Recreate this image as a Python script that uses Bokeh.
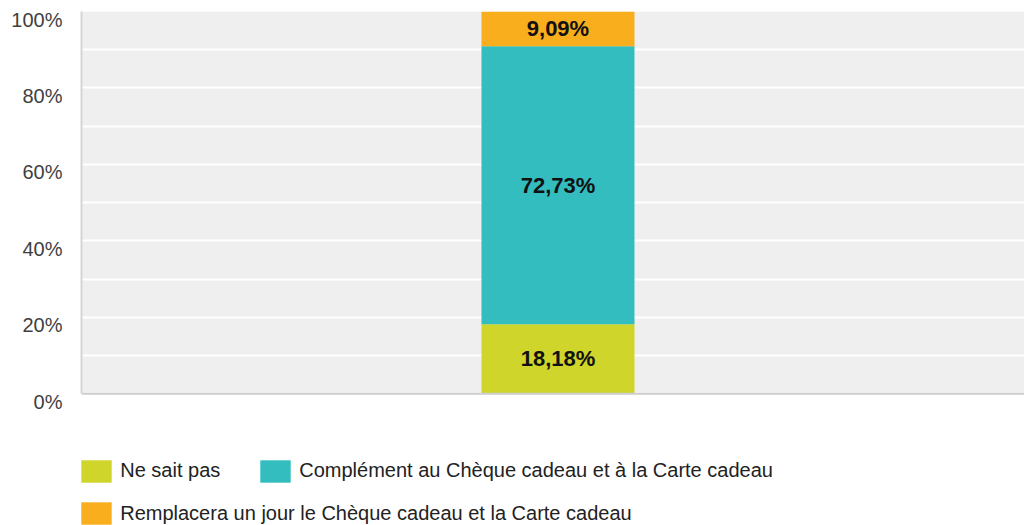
from bokeh.plotting import figure
from bokeh.models import (Range1d, FixedTicker, PrintfTickFormatter, LinearAxis,
                          Legend, LegendItem, ColumnDataSource, BoxAnnotation, Span)
from bokeh.core.properties import value
from bokeh.embed import file_html
from bokeh.resources import INLINE

# ---- data ----
categories = ["Réponses"]
series_names = ["Ne sait pas",
                "Complément au Chèque cadeau et à la Carte cadeau",
                "Remplacera un jour le Chèque cadeau et la Carte cadeau"]
series_values = [18.18, 72.73, 9.09]
series_colors = ["#cfd52a", "#33bdbf", "#f8ae1d"]
y_ticks = [0, 20, 40, 60, 80, 100]
y_grid = [0, 10, 20, 30, 40, 50, 60, 70, 80, 90, 100]
y_min, y_max = 0, 100

FONT = "Liberation Sans"
Y_BOTTOM = -34.5      # room below the axis for the legend
LABEL_SHIFT = 2.1     # tick labels sit slightly below their grid lines

p = figure(width=1024, height=525, output_backend="svg", toolbar_location=None,
           x_range=Range1d(-3.114, 3.049), y_range=Range1d(Y_BOTTOM, y_max),
           min_border_left=81, min_border_top=11, min_border_right=0,
           min_border_bottom=0, x_axis_location=None, y_axis_location=None)
p.background_fill_color = "white"
p.border_fill_color = "white"
p.outline_line_color = None
p.extra_y_ranges = {"lab": Range1d(Y_BOTTOM + LABEL_SHIFT, y_max + LABEL_SHIFT)}

# grey plotting area (0..100 %)
p.add_layout(BoxAnnotation(bottom=y_min, top=y_max, fill_color="#efefef",
                           fill_alpha=1, line_color=None, level="image"))

# axis line (0..100 %)
yline = LinearAxis(ticker=FixedTicker(ticks=[]), bounds=(y_min, y_max))
yline.axis_line_color = "#d6d6d6"
yline.axis_line_width = 2
yline.major_tick_line_color = None
yline.minor_tick_line_color = None
yline.major_tick_in = 0
yline.major_tick_out = 0
yline.major_label_standoff = 0
p.add_layout(yline, "left")

# tick labels
ylab = LinearAxis(y_range_name="lab", ticker=FixedTicker(ticks=y_ticks),
                  formatter=PrintfTickFormatter(format="%d%%"))
ylab.axis_line_color = None
ylab.major_tick_line_color = None
ylab.minor_tick_line_color = None
ylab.major_tick_in = 0
ylab.major_tick_out = 0
ylab.major_label_standoff = 19
ylab.major_label_text_font = FONT
ylab.major_label_text_font_size = "20px"
ylab.major_label_text_color = "#3f3f3f"
p.add_layout(ylab, "left")

p.xgrid.visible = False
p.ygrid.ticker = FixedTicker(ticks=y_grid)
p.ygrid.grid_line_color = "white"
p.ygrid.grid_line_width = 2

# bottom base line
p.add_layout(Span(location=y_min, dimension="width", line_color="#cdcdcd",
                  line_width=2))

# stacked bar
keys = ["s0", "s1", "s2"]
data = {"x": [0]}
for k, v in zip(keys, series_values):
    data[k] = [v]
src = ColumnDataSource(data)
renderers = p.vbar_stack(keys, x="x", width=1.0, source=src,
                         color=series_colors, line_color=None)

# segment labels
bottoms = []
acc = 0.0
for v in series_values:
    bottoms.append(acc)
    acc += v
lab_src = ColumnDataSource(dict(
    x=[0] * len(series_values),
    y=[b + v / 2 for b, v in zip(bottoms, series_values)],
    t=[f"{v:.2f}".replace(".", ",") + "%" for v in series_values]))
p.text(x="x", y="y", text="t", source=lab_src, text_align="center",
       text_baseline="middle", text_font=value(FONT), text_font_style="bold",
       text_font_size="22px", text_color="#111111")

# legends (two rows)
def make_legend(items, loc):
    lg = Legend(items=items, location=loc, orientation="horizontal")
    lg.glyph_width = 38
    lg.glyph_height = 28
    lg.label_standoff = 5
    lg.spacing = 36
    lg.padding = 0
    lg.margin = 0
    lg.border_line_color = None
    lg.background_fill_alpha = 0
    lg.label_text_font = FONT
    lg.label_text_font_size = "20px"
    lg.label_text_color = "#222222"
    lg.label_height = 28
    return lg

items = [LegendItem(label=n, renderers=[r]) for n, r in zip(series_names, renderers)]
p.add_layout(make_legend(items[:2], (-3.8, 40.5)), "center")
p.add_layout(make_legend(items[2:], (-3.8, -2)), "center")

open("out.html", "w").write(file_html(p, INLINE))
